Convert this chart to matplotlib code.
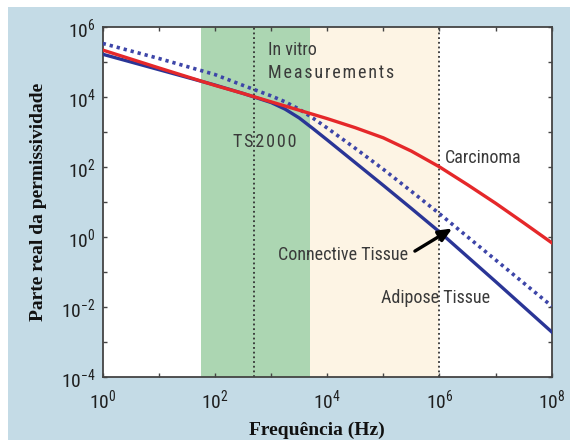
import matplotlib
matplotlib.use("Agg")
import matplotlib.pyplot as plt
from matplotlib.patches import Rectangle
from matplotlib import font_manager
import numpy as np

# Frequency grid (log10 Hz) and log10 of the real part of permittivity
log_freq = [0, 1, 2, 2.5, 3, 3.25, 3.5, 3.75, 4, 4.5, 5, 5.5, 6, 6.5, 7, 7.5, 8]
log_carcinoma = [5.34, 4.83, 4.33, 4.10, 3.86, 3.74, 3.62, 3.50, 3.38, 3.12, 2.83, 2.45, 2.00, 1.49, 0.96, 0.40, -0.17]
log_adipose = [5.22, 4.78, 4.34, 4.10, 3.84, 3.65, 3.40, 3.09, 2.77, 2.12, 1.47, 0.81, 0.14, -0.57, -1.28, -2.00, -2.72]
log_connective = [5.53, 5.10, 4.64, 4.33, 4.03, 3.86, 3.65, 3.39, 3.11, 2.53, 1.93, 1.30, 0.66, 0.00, -0.66, -1.32, -1.98]

# Frequency bands and markers (Hz)
ts2000_band = (56, 5000)
invitro_band = (5000, 1e6)
marker_freqs = [500, 1e6]

x_tick_labels = [r"$10^{0}$", r"$10^{2}$", r"$10^{4}$", r"$10^{6}$", r"$10^{8}$"]
y_tick_labels = [r"$10^{-4}$", r"$10^{-2}$", r"$10^{0}$", r"$10^{2}$", r"$10^{4}$", r"$10^{6}$"]

installed = {f.name for f in font_manager.fontManager.ttflist}
narrow_name = next((n for n in ["Liberation Sans Narrow", "Roboto Condensed", "Open Sans Condensed",
                                "DejaVu Sans Condensed", "Roboto"] if n in installed), "DejaVu Sans")
narrow = [narrow_name, "DejaVu Sans"]
plt.rcParams["mathtext.fontset"] = "custom"
plt.rcParams["mathtext.rm"] = narrow_name
plt.rcParams["mathtext.it"] = narrow_name + ":italic"
plt.rcParams["mathtext.bf"] = narrow_name + ":bold"

fig = plt.figure(figsize=(5.70, 4.43), dpi=100)
fig.patch.set_facecolor("white")
fig.add_artist(Rectangle((8 / 570, 3 / 443), 1 - 8 / 570, 1 - 10 / 443,
                         transform=fig.transFigure, facecolor="#c4dbe6",
                         edgecolor="none", zorder=0))

ax = fig.add_axes([0.1802, 0.1497, 0.7877, 0.7894])
ax.set_facecolor("white")
ax.set_xscale("log")
ax.set_yscale("log")
ax.set_xlim(1e0, 1e8)
ax.set_ylim(1e-4, 1e6)

ax.axvspan(*ts2000_band, color="#acd6b2", lw=0, zorder=0)
ax.axvspan(*invitro_band, color="#fdf4e4", lw=0, zorder=0)
for f in marker_freqs:
    ax.axvline(f, color="#333333", lw=1.3, ls=(0, (1, 1.6)), zorder=1)

f = 10.0 ** np.array(log_freq)
ax.plot(f, 10.0 ** np.array(log_adipose), color="#2a3596", lw=2.4, zorder=3)
ax.plot(f, 10.0 ** np.array(log_connective), color="#3d45a8", lw=2.6,
        ls=(0, (0.9, 1.1)), zorder=3)
ax.plot(f, 10.0 ** np.array(log_carcinoma), color="#e5282a", lw=2.4, zorder=4)

# ticks on every decade, labels on even decades
ax.set_xticks([10.0 ** k for k in range(0, 9)])
ax.set_xticklabels([x_tick_labels[k // 2] if k % 2 == 0 else "" for k in range(0, 9)])
ax.set_yticks([10.0 ** k for k in range(-4, 7)])
ax.set_yticklabels([y_tick_labels[(k + 4) // 2] if k % 2 == 0 else "" for k in range(-4, 7)])
ax.minorticks_off()
ax.tick_params(which="major", direction="in", length=3, width=1.0, color="#444444",
               top=True, right=True, labelsize=14, labelcolor="#1e1e1e")
ax.tick_params(axis="x", pad=8)
ax.tick_params(axis="y", pad=5)
for s in ax.spines.values():
    s.set_color("#444444")
    s.set_linewidth(1.3)

txt = dict(color="#3a3a3a", family=narrow, fontsize=13, zorder=5)
ax.text(10 ** 2.95, 10 ** 5.34, "In vitro", va="center", ha="left", **txt)
ax.text(10 ** 2.95, 10 ** 4.69, "M\u200ae\u200aa\u200as\u200au\u200ar\u200ae\u200am\u200ae\u200an\u200at\u200as",
        va="center", ha="left", **txt)
ax.text(10 ** 2.33, 10 ** 2.72, "T\u200aS\u200a2\u200a0\u200a0\u200a0", va="center", ha="left", **txt)
ax.text(10 ** 6.1, 10 ** 2.25, "Carcinoma", va="center", ha="left", **txt)
ax.text(10 ** 3.13, 10 ** -0.51, "Connective Tissue", va="center", ha="left", **txt)
ax.text(10 ** 4.95, 10 ** -1.74, "Adipose Tissue", va="center", ha="left", **txt)

ax.annotate("", xy=(10 ** 6.27, 10 ** 0.28), xytext=(10 ** 5.52, 10 ** -0.45),
            arrowprops=dict(arrowstyle="-|>,head_length=0.8,head_width=0.35",
                            color="black", lw=2.4), zorder=6)

ax.set_xlabel("Frequência (Hz)", family="Liberation Serif", fontweight="bold",
              fontsize=14, color="#111111", labelpad=6)
ax.xaxis.set_label_coords(0.477, -0.13)
ax.set_ylabel("Parte real da permissividade", family="Liberation Serif", fontweight="bold",
              fontsize=14, color="#111111", labelpad=10)

fig.savefig("out.png", dpi=100, facecolor=fig.get_facecolor())
